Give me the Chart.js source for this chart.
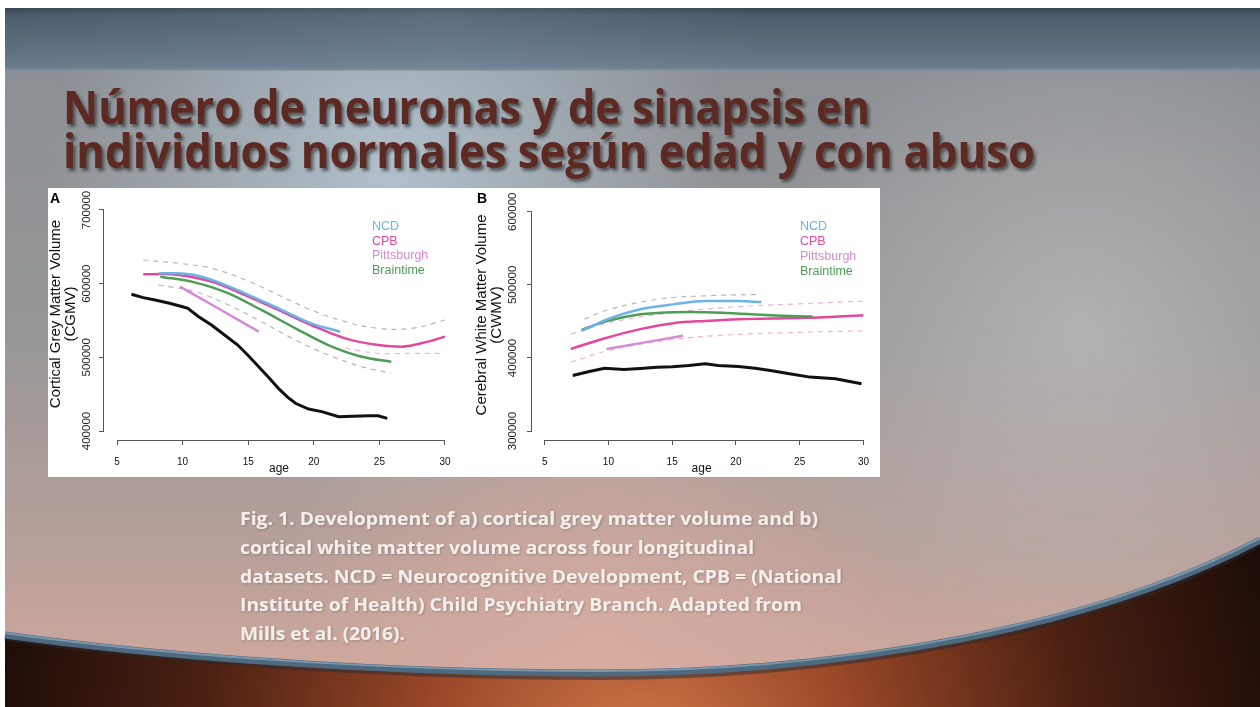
<!DOCTYPE html>
<html>
<head>
<meta charset="utf-8">
<script src="https://cdn.jsdelivr.net/npm/chart.js@4"></script>
<style>
html, body { margin: 0; padding: 0; background: #fff; }
#slide { position: relative; width: 1260px; height: 707px; overflow: hidden; }
#bg, #txt { position: absolute; left: 0; top: 0; }
#fig { position: absolute; left: 48px; top: 188px; width: 832px; height: 289px; background: #fff; }
#fig canvas { position: absolute; top: 0; }
#cA { left: 0; }
#cB { left: 416px; }
</style>
</head>
<body>
<div id="slide">
<svg id="bg" width="1260" height="707">
  <defs>
    <linearGradient id="gTop" x1="0" y1="0" x2="0" y2="1">
      <stop offset="0" stop-color="#3a4754"/>
      <stop offset="0.12" stop-color="#4c5c6b"/>
      <stop offset="0.7" stop-color="#5f7181"/>
      <stop offset="1" stop-color="#6c7e8d"/>
    </linearGradient>
    <radialGradient id="gLow" cx="640" cy="770" r="720" gradientUnits="userSpaceOnUse">
      <stop offset="0" stop-color="#d4794c"/>
      <stop offset="0.3" stop-color="#9a4828"/>
      <stop offset="0.62" stop-color="#4a2012"/>
      <stop offset="1" stop-color="#0e0604"/>
    </radialGradient>
    <linearGradient id="gGray" x1="0" y1="70" x2="0" y2="675" gradientUnits="userSpaceOnUse">
      <stop offset="0" stop-color="#8b9095"/>
      <stop offset="0.45" stop-color="#989797"/>
      <stop offset="0.8" stop-color="#b8a09a"/>
      <stop offset="1" stop-color="#cfa79c"/>
    </linearGradient>
    <radialGradient id="gGlow" cx="390" cy="170" r="340" gradientUnits="userSpaceOnUse">
      <stop offset="0" stop-color="#b6c8d4" stop-opacity="0.85"/>
      <stop offset="1" stop-color="#b6c8d4" stop-opacity="0"/>
    </radialGradient>
    <radialGradient id="gGlow2" cx="1080" cy="330" r="330" gradientUnits="userSpaceOnUse">
      <stop offset="0" stop-color="#c4c2c2" stop-opacity="0.6"/>
      <stop offset="1" stop-color="#c4c2c2" stop-opacity="0"/>
    </radialGradient>
    <radialGradient id="gGlow3" cx="600" cy="640" r="320" gradientUnits="userSpaceOnUse">
      <stop offset="0" stop-color="#dcaea2" stop-opacity="0.7"/>
      <stop offset="1" stop-color="#dcaea2" stop-opacity="0"/>
    </radialGradient>
    <linearGradient id="gTopGlow" x1="0" y1="0" x2="1" y2="0">
      <stop offset="0" stop-color="#8aa0b2" stop-opacity="0"/>
      <stop offset="0.35" stop-color="#8aa0b2" stop-opacity="0.25"/>
      <stop offset="0.6" stop-color="#8aa0b2" stop-opacity="0"/>
    </linearGradient>
  </defs>
  <rect x="0" y="0" width="1260" height="707" fill="#fff"/>
  <rect x="5" y="8" width="1255" height="699" fill="url(#gLow)"/>
  <path d="M5,70 H1260 V540 C1100,625 850,673 600,673 C420,673 200,662 5,635 Z" fill="url(#gGray)"/>
  <path d="M5,70 H1260 V540 C1100,625 850,673 600,673 C420,673 200,662 5,635 Z" fill="url(#gGlow)"/>
  <path d="M5,70 H1260 V540 C1100,625 850,673 600,673 C420,673 200,662 5,635 Z" fill="url(#gGlow2)"/>
  <path d="M5,70 H1260 V540 C1100,625 850,673 600,673 C420,673 200,662 5,635 Z" fill="url(#gGlow3)"/>
  <path d="M5,638 C200,665 420,677 600,677 C850,677 1100,629 1260,544" fill="none" stroke="#2a2a2e" stroke-opacity="0.5" stroke-width="6"/>
  <path d="M5,635 C200,662 420,673 600,673 C850,673 1100,625 1260,540" fill="none" stroke="#4d6a80" stroke-width="7"/>
  <path d="M5,633 C200,660 420,671 600,671 C850,671 1100,623 1260,538" fill="none" stroke="#7d97aa" stroke-width="2"/>
  <rect x="5" y="8" width="1255" height="62" fill="url(#gTop)"/>
  <rect x="5" y="8" width="1255" height="62" fill="url(#gTopGlow)"/>
  <rect x="5" y="68" width="1255" height="3" fill="#7f909c" opacity="0.6"/>
</svg>

<div id="fig">
  <canvas id="cA" width="416" height="289"></canvas>
  <canvas id="cB" width="416" height="289"></canvas>
</div>

<svg id="txt" width="1260" height="707">
  <defs>
    <filter id="sh" x="-5%" y="-30%" width="110%" height="160%">
      <feDropShadow dx="2.5" dy="3" stdDeviation="1.6" flood-color="#222" flood-opacity="0.6"/>
    </filter>
    <filter id="sh2" x="-5%" y="-30%" width="110%" height="160%">
      <feDropShadow dx="1" dy="1" stdDeviation="1" flood-color="#555" flood-opacity="0.4"/>
    </filter>
  </defs>
  <g font-family="'Open Sans', sans-serif" font-weight="700" font-size="46" fill="#5c2a24" filter="url(#sh)">
    <text x="63" y="124" textLength="807" lengthAdjust="spacingAndGlyphs">Número de neuronas y de sinapsis en</text>
    <text x="63" y="168" textLength="972" lengthAdjust="spacingAndGlyphs">individuos normales según edad y con abuso</text>
  </g>
  <g font-family="'Open Sans', sans-serif" font-weight="700" font-size="18" fill="#f4efeb" filter="url(#sh2)">
    <text x="240" y="525" textLength="578" lengthAdjust="spacingAndGlyphs">Fig. 1. Development of a) cortical grey matter volume and b)</text>
    <text x="240" y="554" textLength="514" lengthAdjust="spacingAndGlyphs">cortical white matter volume across four longitudinal</text>
    <text x="240" y="583" textLength="602" lengthAdjust="spacingAndGlyphs">datasets. NCD = Neurocognitive Development, CPB = (National</text>
    <text x="240" y="611" textLength="562" lengthAdjust="spacingAndGlyphs">Institute of Health) Child Psychiatry Branch. Adapted from</text>
    <text x="240" y="640" textLength="165" lengthAdjust="spacingAndGlyphs">Mills et al. (2016).</text>
  </g>
</svg>
</div>

<script>
// shared
const ageTicks = [5, 10, 15, 20, 25, 30];
const legendNames = ['NCD', 'CPB', 'Pittsburgh', 'Braintime'];
const legendColors = ['#6cb4e4', '#e2489c', '#d68ad6', '#4f9d55'];

// panel A: cortical grey matter volume
const yTicksA = [400000, 450000, 500000, 550000, 600000, 650000, 700000];
const yLabelsA = [400000, 500000, 600000, 700000];
const blackAgeA = [6.1, 7.0, 7.9, 9.0, 10.0, 10.4, 11.2, 12.2, 13.3, 14.2, 15.0, 15.8, 16.6, 17.3, 18.0, 18.6, 19.6, 20.6, 21.9, 23.0, 24.2, 24.9, 25.6];
const blackA = [585600, 581000, 577800, 573500, 568700, 566500, 555500, 543900, 529000, 516700, 502500, 487300, 472000, 457900, 446000, 437600, 429800, 426300, 419400, 419900, 420700, 420700, 417200];
const ncdAgeA = [8.2, 9.5, 10.9, 12.8, 14.75, 17.3, 19.8, 22.0];
const ncdA = [614000, 614200, 611700, 601500, 586900, 566600, 546200, 534800];
const cpbAgeA = [7.0, 8.5, 9.7, 12.2, 14.75, 17.3, 19.8, 22.4, 24.9, 26.7, 28.7, 30.0];
const cpbA = [612700, 613000, 611700, 602700, 584600, 564300, 543900, 525800, 516700, 514500, 521300, 528100];
const pitAgeA = [9.8, 12.7, 15.8];
const pitA = [595900, 566600, 534800];
const brnAgeA = [8.3, 10.9, 13.5, 16.0, 18.6, 21.1, 23.65, 25.9];
const brnA = [609500, 601800, 586900, 564300, 539400, 516700, 500900, 494100];
const upAgeA = [7.0, 9.7, 12.2, 14.8, 17.3, 19.8, 22.4, 24.9, 27.5, 30.0];
const upA = [632100, 627600, 620800, 605000, 584600, 564300, 548400, 539400, 539400, 550700];
const loAgeA = [8.15, 10.95, 13.5, 16.0, 18.6, 21.1, 23.65, 25.9];
const loA = [598200, 589100, 571000, 548400, 523500, 503200, 487300, 478300];
const lo2AgeA = [22.4, 24.9, 27.5, 30.0];
const lo2A = [512300, 505500, 505500, 505500];

// panel B: cerebral white matter volume
const yTicksB = [300000, 350000, 400000, 450000, 500000, 550000, 600000];
const yLabelsB = [300000, 400000, 500000, 600000];
const blackAgeB = [7.2, 8.5, 9.7, 11.2, 12.5, 13.8, 15.0, 16.3, 17.6, 18.6, 20.2, 21.5, 22.7, 24.2, 25.8, 27.8, 29.85];
const blackB = [376000, 381500, 385900, 384200, 385500, 387300, 388000, 389600, 391900, 389600, 388200, 385800, 382800, 378500, 373800, 371500, 364700];
const ncdAgeB = [7.9, 9.95, 12.5, 15.1, 17.6, 20.2, 22.0];
const ncdB = [437100, 453000, 466600, 473300, 477800, 477800, 476500];
const cpbAgeB = [7.05, 9.95, 12.5, 15.1, 17.6, 20.2, 24.0, 26.5, 30.0];
const cpbB = [412300, 428000, 439400, 447600, 450700, 453000, 454400, 455200, 458400];
const pitAgeB = [9.85, 15.85];
const pitB = [412300, 430300];
const brnAgeB = [7.9, 9.95, 12.5, 13.8, 16.3, 18.9, 22.7, 26.0];
const brnB = [438500, 450700, 459800, 461500, 462900, 462000, 458400, 456600];
const upAgeB = [8.1, 10.0, 13.8, 17.6, 22.0];
const upB = [453000, 466000, 480100, 485000, 486900];
const up2AgeB = [7.05, 10.0, 15.0, 20.0, 25.0, 30.0];
const up2B = [432600, 448000, 462000, 470000, 474000, 477800];
const lo2AgeB = [7.05, 10.0, 15.0, 20.0, 25.0, 30.0];
const lo2B = [394100, 410000, 425000, 432000, 435000, 437100];

const pts = (ages, vals) => ages.map((a, i) => ({ x: a, y: vals[i] }));

Chart.defaults.font.family = '"Liberation Sans", Arial, sans-serif';

const solid = (data, color, w, tension) => ({
  data, borderColor: color, borderWidth: w, pointRadius: 0, fill: false,
  tension: tension, cubicInterpolationMode: tension ? 'monotone' : 'default'
});
const dashed = (data, color) => ({
  data, borderColor: color, borderWidth: 1.2, borderDash: [5, 5], pointRadius: 0, fill: false, tension: 0.4
});

const rPlot = {
  id: 'rPlot',
  afterDraw(chart, args, o) {
    const { ctx, chartArea, scales: { x, y } } = chart;
    ctx.save();
    ctx.strokeStyle = '#555';
    ctx.lineWidth = 1;
    ctx.beginPath();
    const yb = Math.round(chartArea.bottom) + 0.5;
    ctx.moveTo(x.getPixelForValue(ageTicks[0]), yb);
    ctx.lineTo(x.getPixelForValue(ageTicks[ageTicks.length - 1]), yb);
    const xl = Math.round(chartArea.left) - 0.5;
    ctx.moveTo(xl, y.getPixelForValue(o.yTicks[0]));
    ctx.lineTo(xl, y.getPixelForValue(o.yTicks[o.yTicks.length - 1]));
    ctx.stroke();

    ctx.font = '12.5px "Liberation Sans", Arial, sans-serif';
    ctx.textBaseline = 'middle';
    ctx.textAlign = 'left';
    legendNames.forEach((n, i) => {
      ctx.fillStyle = legendColors[i];
      ctx.fillText(n, o.legendX, o.legendY + i * o.legendStep);
    });
    ctx.font = 'bold 14px "Liberation Sans", Arial, sans-serif';
    ctx.fillStyle = '#000';
    ctx.textBaseline = 'alphabetic';
    ctx.fillText(o.letter, o.letterX, 15);
    ctx.restore();
  }
};

function panel(id, p) {
  return new Chart(document.getElementById(id), {
    type: 'line',
    data: { datasets: p.datasets },
    plugins: [rPlot],
    options: {
      responsive: false,
      animation: false,
      layout: { padding: { left: 0, top: 0, bottom: 0, right: p.padRight }, autoPadding: false },
      plugins: {
        legend: { display: false },
        tooltip: { enabled: false },
        rPlot: p.r
      },
      scales: {
        x: {
          type: 'linear', min: p.xMin, max: p.xMax,
          afterFit: s => { s.height = 37; },
          afterBuildTicks: s => { s.ticks = ageTicks.map(v => ({ value: v })); },
          border: { display: false },
          grid: { drawOnChartArea: false, tickLength: 5, tickColor: '#555' },
          ticks: { padding: 11, maxRotation: 0, color: '#111', font: { size: 10 } },
          title: { display: true, text: 'age', color: '#111', font: { size: 12 }, padding: { top: 0, bottom: 1 } }
        },
        y: {
          type: 'linear', min: p.yMin, max: p.yMax,
          afterFit: s => { s.width = p.yWidth; },
          afterBuildTicks: s => { s.ticks = p.yTicks.map(v => ({ value: v })); },
          border: { display: false },
          grid: { drawOnChartArea: false, tickLength: 5, tickColor: '#555' },
          ticks: {
            minRotation: 90, maxRotation: 90, crossAlign: 'center', padding: p.tickPad,
            color: '#222', font: { size: 11.5 },
            callback: v => p.yLabels.includes(v) ? String(v) : ''
          },
          title: { display: true, text: p.yTitle, color: '#111', font: { size: 15, lineHeight: 1.0 }, padding: { top: p.titlePad, bottom: 0 } }
        }
      }
    }
  });
}

panel('cA', {
  xMin: 4.009, xMax: 30.686, padRight: 10, yWidth: 56, tickPad: -7,
  yMin: 387783, yMax: 729864, yTicks: yTicksA, yLabels: yLabelsA, titlePad: 0,
  yTitle: ['Cortical Grey Matter Volume', '(CGMV)'],
  r: { yTicks: yTicksA, legendX: 324, legendY: 39, legendStep: 14.5, letter: 'A', letterX: 2 },
  datasets: [
    solid(pts(blackAgeA, blackA), '#111', 3, 0),
    solid(pts(ncdAgeA, ncdA), legendColors[0], 2.5, 0.4),
    solid(pts(pitAgeA, pitA), legendColors[2], 2.5, 0.4),
    solid(pts(cpbAgeA, cpbA), legendColors[1], 2.5, 0.4),
    solid(pts(brnAgeA, brnA), legendColors[3], 2.5, 0.4),
    dashed(pts(upAgeA, upA), 'rgba(175,175,175,0.9)'),
    dashed(pts(loAgeA, loA), 'rgba(175,175,175,0.9)'),
    dashed(pts(lo2AgeA, lo2A), 'rgba(230,160,205,0.8)')
  ]
});

panel('cB', {
  xMin: 4.006, xMax: 30.612, padRight: 0, yWidth: 68, tickPad: -5,
  yMin: 287783, yMax: 629864, yTicks: yTicksB, yLabels: yLabelsB, titlePad: 10.5,
  yTitle: ['Cerebral White Matter Volume', '(CWMV)'],
  r: { yTicks: yTicksB, legendX: 336, legendY: 39, legendStep: 15, letter: 'B', letterX: 13 },
  datasets: [
    solid(pts(blackAgeB, blackB), '#111', 3, 0),
    solid(pts(ncdAgeB, ncdB), legendColors[0], 2.5, 0.4),
    solid(pts(pitAgeB, pitB), legendColors[2], 2.5, 0.4),
    solid(pts(brnAgeB, brnB), legendColors[3], 2.5, 0.4),
    solid(pts(cpbAgeB, cpbB), legendColors[1], 2.5, 0.4),
    dashed(pts(upAgeB, upB), 'rgba(175,175,175,0.9)'),
    dashed(pts(up2AgeB, up2B), 'rgba(230,160,205,0.8)'),
    dashed(pts(lo2AgeB, lo2B), 'rgba(230,160,205,0.8)')
  ]
});
</script>
</body>
</html>
